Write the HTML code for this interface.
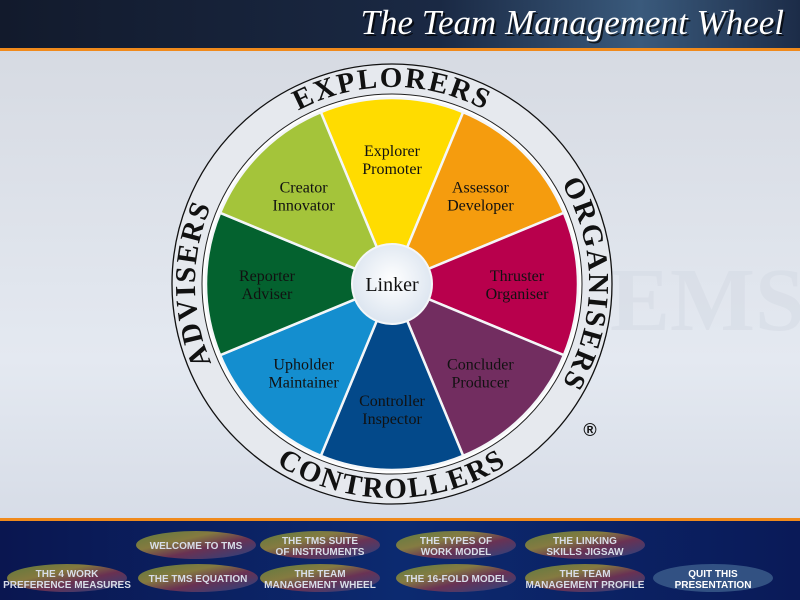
<!DOCTYPE html>
<html><head><meta charset="utf-8"><style>
html,body{margin:0;padding:0;width:800px;height:600px;overflow:hidden;background:#d6dbe3}
svg{display:block}
</style></head><body>
<svg width="800" height="600" viewBox="0 0 800 600" xmlns="http://www.w3.org/2000/svg">
<defs>
<linearGradient id="hdr" x1="0" y1="0" x2="1" y2="0"><stop offset="0" stop-color="#121a2c"/><stop offset="0.55" stop-color="#1a2944"/><stop offset="0.8" stop-color="#3a5a7c"/><stop offset="1" stop-color="#1c2c48"/></linearGradient>
<linearGradient id="bg" x1="0" y1="0" x2="0" y2="1"><stop offset="0" stop-color="#d4d8e0"/><stop offset="0.6" stop-color="#e4e9f1"/><stop offset="1" stop-color="#d0d6e2"/></linearGradient>
<linearGradient id="ftr" x1="0" y1="0" x2="1" y2="0"><stop offset="0" stop-color="#0a1650"/><stop offset="0.5" stop-color="#0c2a70"/><stop offset="1" stop-color="#0a1a58"/></linearGradient>
<radialGradient id="lk" cx="0.5" cy="0.45" r="0.6"><stop offset="0" stop-color="#ffffff"/><stop offset="1" stop-color="#d8e2ee"/></radialGradient>
<linearGradient id="btn" x1="0" y1="0" x2="1" y2="1"><stop offset="0" stop-color="#6c8a3a"/><stop offset="0.35" stop-color="#9a8a3a"/><stop offset="0.6" stop-color="#7a3450"/><stop offset="1" stop-color="#2a4a8a"/></linearGradient>
</defs>
<rect x="0" y="0" width="800" height="600" fill="url(#bg)"/>
<text x="610" y="330" font-family="Liberation Serif, serif" font-size="90" font-weight="bold" fill="#d4dae4" opacity="0.5">EMS</text>
<rect x="0" y="0" width="800" height="48" fill="url(#hdr)"/>
<rect x="0" y="48" width="800" height="3" fill="#f08a1c"/>
<text x="786" y="36" text-anchor="end" font-family="Liberation Serif, serif" font-style="italic" font-size="35" fill="#000" opacity="0.7">The Team Management Wheel</text>
<text x="784" y="34" text-anchor="end" font-family="Liberation Serif, serif" font-style="italic" font-size="35" fill="#ffffff">The Team Management Wheel</text>

<g id="wheel"></g>

<rect x="0" y="518" width="800" height="3" fill="#f08a1c"/>
<rect x="0" y="521" width="800" height="79" fill="url(#ftr)"/>
<g id="nav"></g>
</svg>
<script>
const segLabels1 = ["Explorer","Assessor","Thruster","Concluder","Controller","Upholder","Reporter","Creator"];
const segLabels2 = ["Promoter","Developer","Organiser","Producer","Inspector","Maintainer","Adviser","Innovator"];
const segColors = ["#ffdc00","#f59c0e","#b8004c","#722d60","#03498a","#148ecf","#04622f","#a4c43a"];
const ringWords = ["EXPLORERS","ORGANISERS","CONTROLLERS","ADVISERS"];
const ringAngles = [0,90,180,270];
const navLabels = [["WELCOME TO TMS"],["THE TMS SUITE","OF INSTRUMENTS"],["THE TYPES OF","WORK MODEL"],["THE LINKING","SKILLS JIGSAW"],["THE 4 WORK","PREFERENCE MEASURES"],["THE TMS EQUATION"],["THE TEAM","MANAGEMENT WHEEL"],["THE 16-FOLD MODEL"],["THE TEAM","MANAGEMENT PROFILE"],["QUIT THIS","PRESENTATION"]];

const NS="http://www.w3.org/2000/svg";
const cx=392, cy=284, R=186, Rin=190, Rout=220, Rl=40;
function pt(a,r){const t=a*Math.PI/180;return [cx+r*Math.sin(t), cy-r*Math.cos(t)];}
function mk(tag,attrs,parent){const e=document.createElementNS(NS,tag);for(const k in attrs)e.setAttribute(k,attrs[k]);parent.appendChild(e);return e;}
const w=document.getElementById('wheel');
let e=mk('circle',{cx:cx,cy:cy,r:Rout,fill:'#e6e9ee',stroke:'#111','stroke-width':1.3},w);


e=mk('circle',{cx:cx,cy:cy,r:Rin,fill:'#ffffff',stroke:'#222','stroke-width':1},w);


const n=segColors.length, step=360/n;
segColors.forEach((c,i)=>{
  const a0=i*step-step/2, a1=i*step+step/2;
  const p0=pt(a0,R), p1=pt(a1,R);
  const p=mk('path',{d:`M${cx},${cy} L${p0[0]},${p0[1]} A${R},${R} 0 0 1 ${p1[0]},${p1[1]} Z`,fill:c,stroke:'#f4f6f8','stroke-width':2.5},w);
  
  
});
segLabels1.forEach((l,i)=>{
  const q=pt(i*step,125);
  const t=mk('text',{x:q[0],y:q[1]-3,'text-anchor':'middle','font-family':'Liberation Serif, serif','font-size':16,fill:'#111'},w);
  
  
  const s1=mk('tspan',{x:q[0]},t);s1.textContent=l;
  const s2=mk('tspan',{x:q[0],dy:18},t);s2.textContent=segLabels2[i];
});
e=mk('circle',{cx:cx,cy:cy,r:Rl,fill:'url(#lk)',stroke:'#f4f6f8','stroke-width':2},w);


e=mk('text',{x:cx,y:cy+7,'text-anchor':'middle','font-family':'Liberation Serif, serif','font-size':20,fill:'#111'},w);
e.textContent='Linker';


ringWords.forEach((word,i)=>{
  const a=ringAngles[i];
  let d;
  if(a===180){const r=214;const s=pt(a+70,r),f=pt(a-70,r);d=`M${s[0]},${s[1]} A${r},${r} 0 0 0 ${f[0]},${f[1]}`;}
  else {const r=197;const s=pt(a-70,r),f=pt(a+70,r);d=`M${s[0]},${s[1]} A${r},${r} 0 0 1 ${f[0]},${f[1]}`;}
  mk('path',{id:'rp'+i,d:d,fill:'none'},w);
  const t=mk('text',{'font-family':'Liberation Serif, serif','font-size':29,'font-weight':'bold',fill:'#111','letter-spacing':2},w);
  
  
  const tp=mk('textPath',{href:'#rp'+i,startOffset:'50%','text-anchor':'middle'},t);
  tp.textContent=word;
});
e=mk('text',{x:590,y:436,'text-anchor':'middle','font-family':'Liberation Sans, sans-serif','font-size':18,'font-weight':'bold',fill:'#111'},w);
e.textContent='®';



const nav=document.getElementById('nav');
const pos=[[196,545],[320,545],[456,545],[585,545],[67,578],[198,578],[320,578],[456,578],[585,578],[713,578]];
navLabels.forEach((lines,i)=>{
  const [x,y]=pos[i];
  const g=mk('g',{},nav);
  
  
  mk('ellipse',{cx:x,cy:y,rx:60,ry:14,fill:i===9?'#3a5a8a':'url(#btn)',opacity:0.85},g);
  lines.forEach((l,j)=>{
    const t=mk('text',{x:x,y:y+4+(lines.length===2?(j===0?-5:6):0),'text-anchor':'middle','font-family':'Liberation Sans, sans-serif','font-size':10,'font-weight':'bold',fill:i===9?'#ffffff':'#d8dde8'},g);
    t.textContent=l;
  });
});
</script>
</body></html>
